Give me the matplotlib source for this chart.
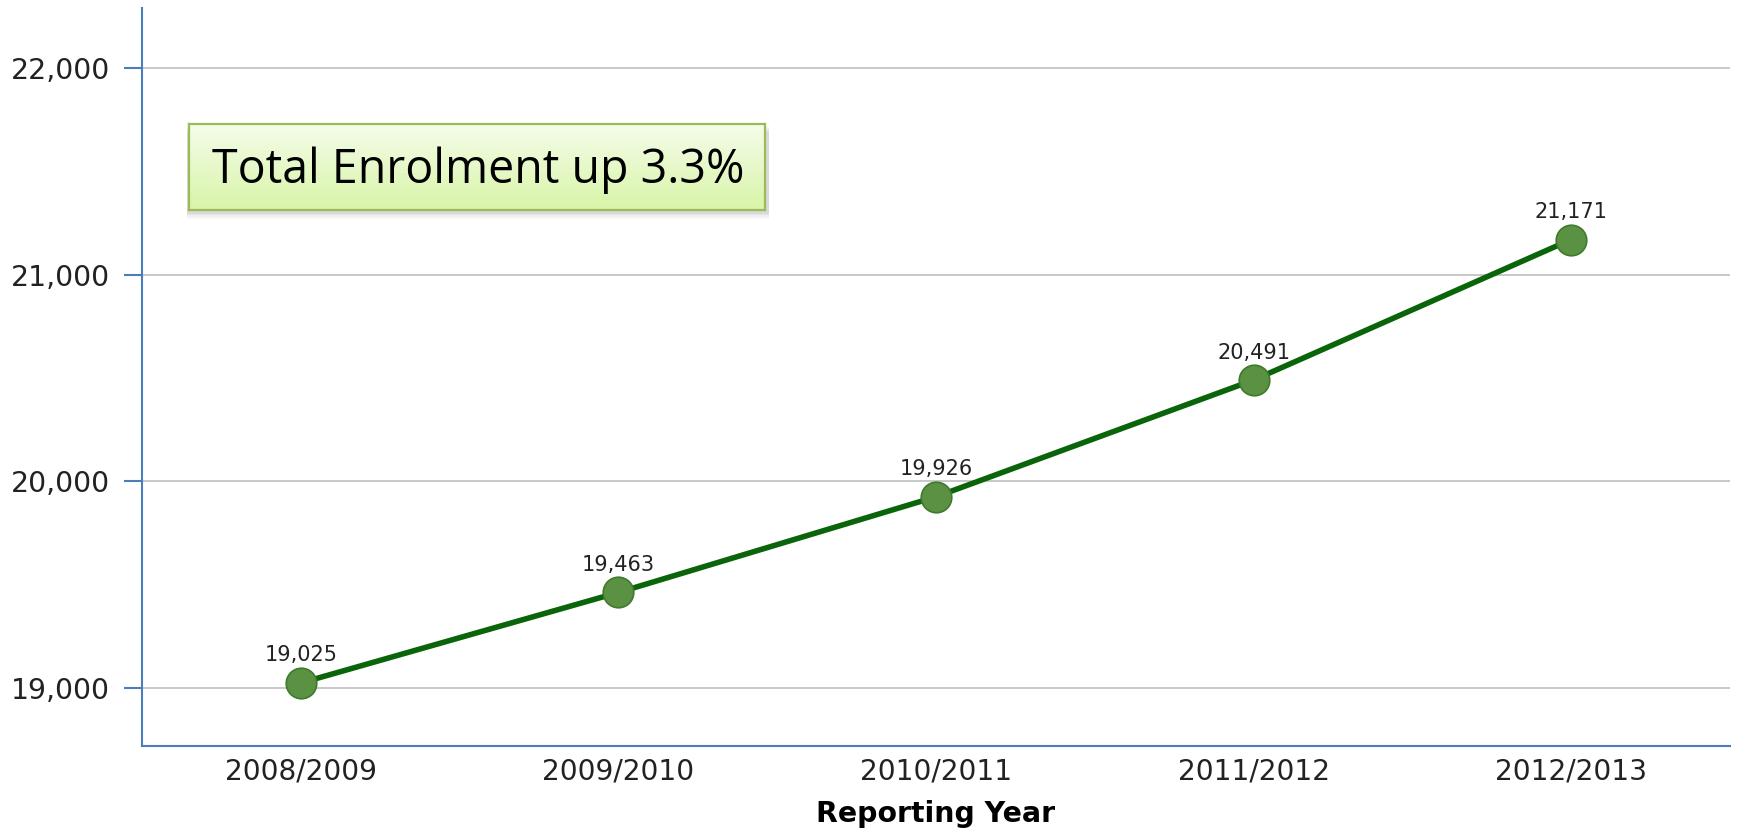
import numpy as np
import matplotlib

matplotlib.use("Agg")
import matplotlib.pyplot as plt
from matplotlib.patches import Rectangle

# --- data -----------------------------------------------------------------
years = ["2008/2009", "2009/2010", "2010/2011", "2011/2012", "2012/2013"]
enrolment = [19025, 19463, 19926, 20491, 21171]
y_ticks = [19000, 20000, 21000, 22000]
callout = "Total Enrolment up 3.3%"

AXIS_BLUE = "#4a7ebb"
LINE_GREEN = "#0a640a"
MARKER_FACE = "#5b9142"
MARKER_EDGE = "#3f7a2e"

fig = plt.figure(figsize=(17.39, 8.32), dpi=100)
ax = fig.add_axes([0.0817, 0.1034, 0.9131, 0.8866])

x = np.arange(len(years))
ax.plot(x, enrolment, color=LINE_GREEN, lw=4, marker="o", ms=22,
        mfc=MARKER_FACE, mec=MARKER_EDGE, mew=1.2, zorder=3)
for xi, v in zip(x, enrolment):
    ax.annotate(f"{v:,}", (xi, v), xytext=(0, 15.5), textcoords="offset points",
                ha="center", va="baseline", fontsize=15, color="#222222")

ax.set_xlim(-0.5, 4.5)
ax.set_ylim(18720, 22290)
ax.set_xticks(x)
ax.set_xticklabels(years)
ax.set_yticks(y_ticks)
ax.set_yticklabels([f"{t:,}" for t in y_ticks])

ax.grid(axis="y", color="#c8c8c8", lw=1.4)
ax.set_axisbelow(True)
for side in ("top", "right"):
    ax.spines[side].set_visible(False)
for side in ("left", "bottom"):
    ax.spines[side].set_color(AXIS_BLUE)
    ax.spines[side].set_linewidth(1.5)
ax.tick_params(axis="y", length=13, width=1.5, color=AXIS_BLUE, pad=10,
               labelsize=20.4, labelcolor="#222222")
ax.tick_params(axis="x", length=0, pad=8, labelsize=20.2, labelcolor="#222222")
ax.set_xlabel("Reporting Year", fontsize=20.4, fontweight="bold", labelpad=11)

# --- callout box with gradient fill and soft shadow -----------------------
bx, by, bw, bh = 0.1084, 0.747, 0.3316, 0.104
for i, a in enumerate([0.05, 0.07, 0.09, 0.11]):
    off = 0.002 * (4 - i)
    fig.patches.append(Rectangle((bx - 0.001, by - off - 0.002), bw + 0.003, bh,
                                 transform=fig.transFigure, facecolor="#808080",
                                 edgecolor="none", alpha=a, zorder=4))
bax = fig.add_axes([bx, by, bw, bh], zorder=5)
grad = np.linspace(0, 1, 64)[:, None]
top = np.array([0.96, 0.99, 0.92])
bot = np.array([0.85, 0.96, 0.66])
img = top[None, None, :] * (1 - grad[..., None]) + bot[None, None, :] * grad[..., None]
bax.imshow(img, aspect="auto", extent=[0, 1, 0, 1], origin="upper")
bax.set_xticks([])
bax.set_yticks([])
for s in bax.spines.values():
    s.set_color("#9bbb59")
    s.set_linewidth(1.6)
bax.text(0.04, 0.47, callout, transform=bax.transAxes, ha="left", va="center",
         fontsize=33.5, family="Open Sans", color="black")

fig.savefig("out.png", dpi=100, facecolor="white")
